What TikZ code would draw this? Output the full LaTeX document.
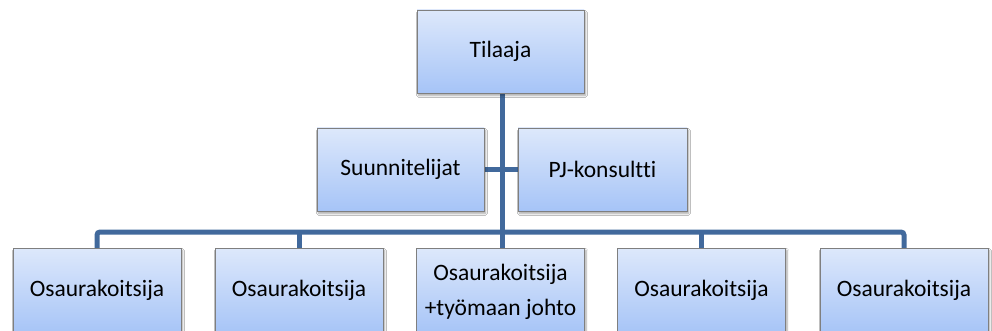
\documentclass[tikz,border=0pt]{standalone}
\usepackage{fontspec}
\setmainfont[Ligatures={NoCommon}]{Carlito}
\usetikzlibrary{shadows.blur}
\definecolor{boxtop}{HTML}{DDE8FB}
\definecolor{boxbottom}{HTML}{A6C4F7}
\definecolor{boxline}{HTML}{7F7F7F}
\definecolor{linkblue}{HTML}{41699C}
\tikzset{
  orgbox/.style={draw=boxline, line width=0.8pt, top color=boxtop, bottom color=boxbottom,
    minimum width=167pt, minimum height=83pt, inner sep=0pt, align=center,
    font=\fontsize{23.5}{35}\selectfont,
    blur shadow={shadow xshift=1.5pt, shadow yshift=-2.5pt, shadow blur steps=6, shadow opacity=35}},
  lowbox/.style={orgbox, minimum width=168pt, minimum height=86pt},
  link/.style={draw=linkblue, line width=5pt}
}
\begin{document}
\begin{tikzpicture}[x=1pt, y=-1pt]
  \clip (0,0) rectangle (992,331);
  \fill[white] (0,0) rectangle (992,331);
  \coordinate (bus) at (502,232);
  % connectors drawn first so the boxes sit on top
  \coordinate (t) at (502,51.5);
  \coordinate (c1) at (97,290);
  \coordinate (c5) at (904,290);
  \draw[link] (t) -- (502,290);
  \draw[link] (400,169.5) -- (602,169.5);
  \draw[link, rounded corners=3pt] (c1) -- (c1 |- bus) -- (c5 |- bus) -- (c5);
  \draw[link] (299,290) -- (299,232);
  \draw[link] (701.5,290) -- (701.5,232);
  % boxes
  \node[orgbox] (tilaaja) at (500.5,51.5) {Tilaaja};
  \node[orgbox] (suun) at (400.5,169.5) {Suunnitelijat};
  \node[orgbox, minimum width=169pt] (pj) at (602.5,169.5) {PJ-konsultti};
  % the bottom row runs past the lower edge; text sits a little above the box centre
  \node[lowbox] (o1) at (97,291) {\raisebox{5pt}{Osaurakoitsija}};
  \node[lowbox] (o2) at (299,291) {\raisebox{5pt}{Osaurakoitsija}};
  \node[lowbox] (o3) at (500.5,291) {\raisebox{5pt}{\begin{tabular}{@{}c@{}}Osaurakoitsija\\+työmaan johto\end{tabular}}};
  \node[lowbox] (o4) at (701.5,291) {\raisebox{5pt}{Osaurakoitsija}};
  \node[lowbox] (o5) at (904,291) {\raisebox{5pt}{Osaurakoitsija}};
\end{tikzpicture}
\end{document}
